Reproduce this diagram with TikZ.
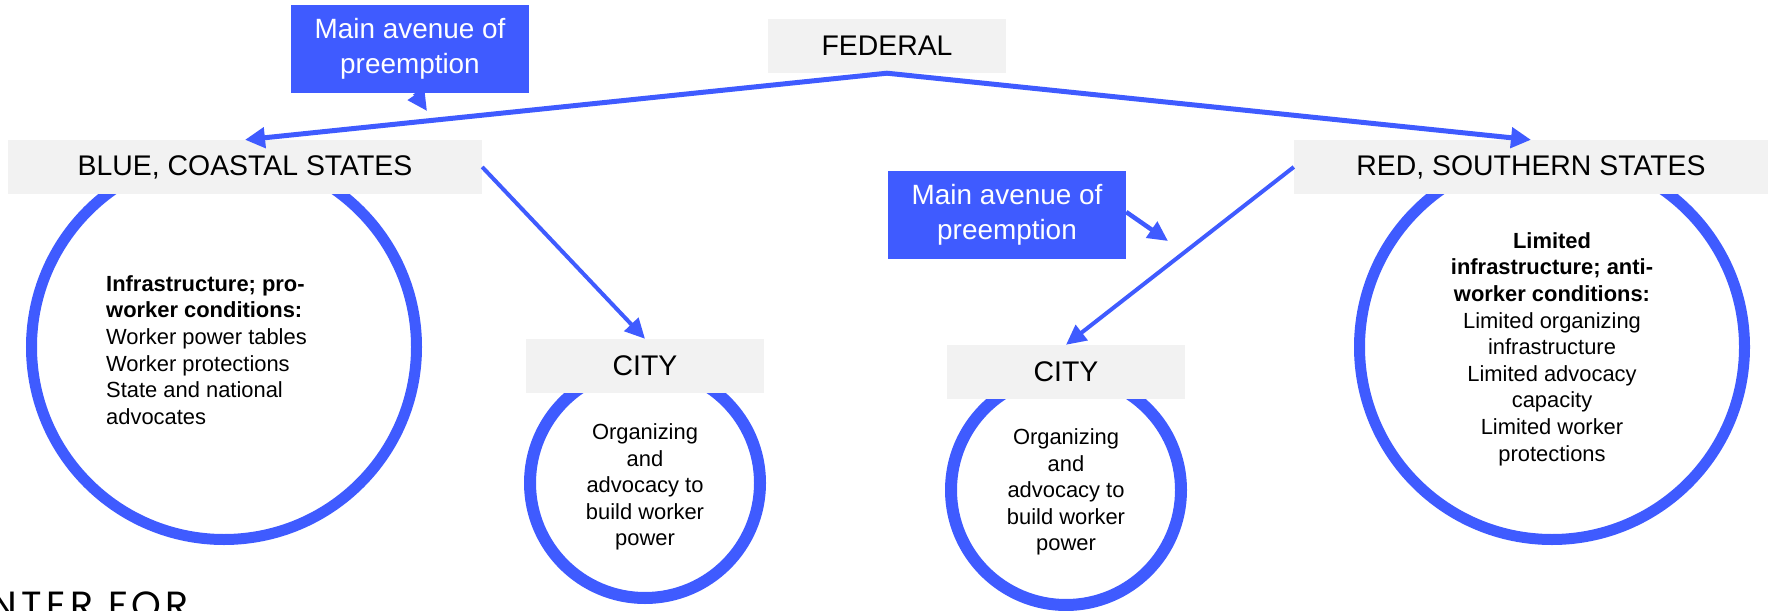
\documentclass[tikz,border=0pt]{standalone}
\usepackage{fontspec}
\setmainfont{Liberation Sans}
\newfontfamily\logofont[LetterSpace=12]{Poppins}
\usetikzlibrary{arrows.meta}
\definecolor{accent}{HTML}{3F5BFF}
\definecolor{panel}{HTML}{F2F2F2}
\tikzset{
  tier/.style={fill=panel, minimum width=238bp, minimum height=54bp, inner sep=0pt,
               font=\fontsize{28.5}{34}\selectfont},
  widetier/.style={tier, minimum width=474bp},
  callout/.style={fill=accent, text=white, minimum width=238bp, minimum height=88bp,
                  inner sep=0pt, align=center, font=\fontsize{28}{35}\selectfont},
  ring/.style={circle, draw=accent, line width=#1, inner sep=0pt},
  body/.style={font=\fontsize{22}{26.7}\selectfont, inner sep=0pt},
  link/.style={draw=accent, line width=5bp, -{Triangle[length=20bp,width=20bp]}},
  thinlink/.style={draw=accent, line width=4bp, -{Triangle[length=20bp,width=19bp]}},
}
\begin{document}
\begin{tikzpicture}[x=1bp, y=-1bp]
\useasboundingbox (0,0) rectangle (1771,611);

% rings
\node[ring=11bp, minimum size=385bp] (ringL) at (224,347) {};
\node[ring=11bp, minimum size=385bp] (ringR) at (1552,347) {};
\node[ring=12bp, minimum size=230bp] (ringCL) at (645,483) {};
\node[ring=12bp, minimum size=230bp] (ringCR) at (1066,490) {};

% level boxes
\node[tier] (fed) at (887,46) {FEDERAL};
\node[widetier] (blue) at (245,167) {BLUE, COASTAL STATES};
\node[widetier] (red) at (1531,167) {RED, SOUTHERN STATES};
\node[tier] (cityL) at (645,366) {CITY};
\node[tier] (cityR) at (1066,372) {CITY};

% callouts
\node[callout] (av1) at (410,49) {Main avenue of\\preemption};
\node[callout] (av2) at (1007,215) {Main avenue of\\preemption};

% ring contents
\node[body, anchor=west, align=left] (txtL) at (106,350)
  {\textbf{Infrastructure; pro-}\\\textbf{worker conditions:}\\Worker power tables\\Worker protections\\State and national\\advocates};
\node[body, align=center] (txtR) at (1552,349)
  {\textbf{Limited}\\\textbf{infrastructure; anti-}\\\textbf{worker conditions:}\\Limited organizing\\infrastructure\\Limited advocacy\\capacity\\Limited worker\\protections};
\node[body, align=center] (txtCL) at (645,487)
  {Organizing\\and\\advocacy to\\build worker\\power};
\node[body, align=center] (txtCR) at (1066,492)
  {Organizing\\and\\advocacy to\\build worker\\power};

% connectors
\draw[link] (fed.south) -- (blue.north);
\draw[link] (fed.south) -- (red.north);
\draw[thinlink] (blue.east) -- (cityL.north);
\draw[thinlink] (red.west) -- (cityR.north);

\coordinate (p1) at (427,111);
\coordinate (p2) at (1168,241);
\draw[thinlink, line width=4.5bp] ([xshift=5bp]av1.south) -- (p1);
\draw[thinlink, line width=4.5bp] ([yshift=3bp]av2.east) -- (p2);

% logo fragment along the lower edge
\begin{scope}
\clip (0,0) rectangle (1771,611);
\node[anchor=north west, inner sep=0pt, font=\logofont\fontsize{38}{42}\selectfont] (logo) at (-10,592) {NTER FOR};
\end{scope}
\end{tikzpicture}
\end{document}
